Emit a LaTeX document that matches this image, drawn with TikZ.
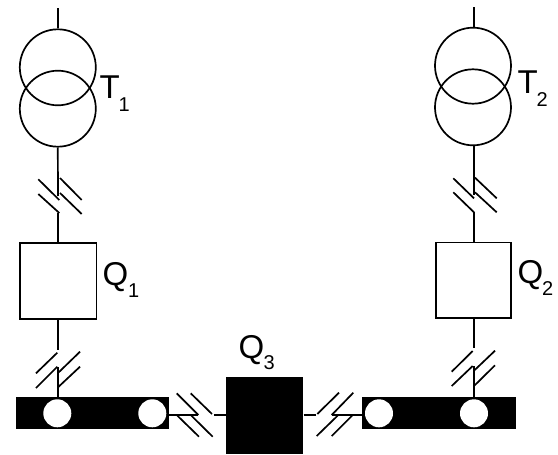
\documentclass[tikz,border=0pt]{standalone}
\usepackage{fontspec}
\setmainfont{Liberation Sans}
\begin{document}
\begin{tikzpicture}[x=1pt,y=-1pt,
  wire/.style={line width=1.7pt,black},
  tick/.style={line width=1.7pt,black},
  winding/.style={circle,draw=black,line width=1.7pt,minimum size=76pt,inner sep=0pt},
  breaker/.style={rectangle,draw=black,line width=1.7pt,fill=white,inner sep=0pt},
  solid box/.style={rectangle,fill=black,inner sep=0pt},
  hole/.style={circle,fill=white,minimum size=28pt,inner sep=0pt},
  mainlabel/.style={anchor=base west,inner sep=0pt,font=\fontsize{33}{33}\selectfont},
  sublabel/.style={anchor=base west,inner sep=0pt,font=\fontsize{20}{20}\selectfont}]
\useasboundingbox (0,0) rectangle (558,455);
% transformers
\node[winding] (t1a) at (57.8,67.3) {};
\node[winding] (t1b) at (57.8,108.7) {};
\node[winding] (t2a) at (473,65.7) {};
\node[winding] (t2b) at (473,107.3) {};
% feeder ends
\coordinate (t1top) at (58,8);
\coordinate (t2top) at (474,7);
\draw[wire] (t1top) -- (t1top |- t1a.north);
\draw[wire] (t2top) -- (t2top |- t2a.north);
% boxes
\node[breaker,minimum width=76.2pt,minimum height=76pt] (q1) at (58.4,281.3) {};
\node[breaker,minimum width=75.6pt,minimum height=75.7pt] (q2) at (473.5,280.2) {};
\node[solid box,minimum width=77.3pt,minimum height=77.3pt] (q3) at (264.7,415.4) {};
\node[solid box,minimum width=153.3pt,minimum height=32pt] (bus1) at (92.4,413) {};
\node[solid box,minimum width=153.4pt,minimum height=32pt] (bus2) at (439,413) {};
% break points on the connectors
\coordinate (a1) at (58,196);  \coordinate (a2) at (58,213);
\coordinate (b1) at (58,350);  \coordinate (b2) at (58,367);
\coordinate (c1) at (474,195); \coordinate (c2) at (474,212);
\coordinate (d1) at (474,348); \coordinate (d2) at (474,366);
\coordinate (e1) at (198,415); \coordinate (e2) at (214,415);
\coordinate (f1) at (315.7,415); \coordinate (f2) at (331.7,415);
% connectors
\draw[wire] (t1b.south) -- (a1);
\draw[wire] (a2) -- (a2 |- q1.north);
\draw[wire] (q1.south -| b1) -- (b1);
\draw[wire] (b2) -- (b2 |- bus1.north);
\draw[wire] (t2b.south -| c1) -- (c1);
\draw[wire] (c2) -- (c2 |- q2.north);
\draw[wire] (q2.south -| d1) -- (d1);
\draw[wire] (d2) -- (d2 |- bus2.north);
\draw[wire] (bus1.east |- e1) -- (e1);
\draw[wire] (e2) -- (q3.west |- e2);
\draw[wire] (q3.east |- f1) -- (f1);
\draw[wire] (f2) -- (bus2.west |- f2);
% ticks
\draw[tick] (38.3,179.3) -- (59.3,200) (38.3,194) -- (59.3,213) (60,178) -- (81.7,200) (60,193) -- (81.7,214);
\draw[tick] (453.3,178.3) -- (474,198.3) (453.3,192.3) -- (474,212.3) (475,177.7) -- (496.7,198.3) (475,192.3) -- (496.7,212.3);
\draw[tick] (36,373.3) -- (57.3,352.7) (36,388) -- (57.3,366.7) (80,351.7) -- (58.3,372.7) (80,366.7) -- (58.3,387);
\draw[tick] (451.7,371.7) -- (472.7,351) (451.7,386) -- (472.7,366) (495,350.7) -- (474,370.7) (495,365.3) -- (474,386);
\draw[tick] (176.7,393.3) -- (198.3,415) (176.7,415) -- (199,436.7) (190.7,393.3) -- (212,414) (190.7,415) -- (212.7,436.7);
\draw[tick] (317.3,414) -- (339,392.7) (316.7,436) -- (338.3,415) (331.7,415) -- (353.3,392.7) (331.7,436) -- (352.7,415);
% holes
\node[hole] (h1) at (57.3,413.3) {};
\node[hole] (h2) at (152.3,413.3) {};
\node[hole] (h3) at (379,413.3) {};
\node[hole] (h4) at (474,413.3) {};
% labels
\node[mainlabel] (lt1) at (99.5,98.7) {T};
\node[sublabel] (lt1s) at (118.5,111) {1};
\node[mainlabel] (lt2) at (517.5,93.3) {T};
\node[sublabel] (lt2s) at (536.5,106) {2};
\node[mainlabel] (lq1) at (102.5,285) {Q};
\node[sublabel] (lq1s) at (128,297.7) {1};
\node[mainlabel] (lq2) at (517.5,283) {Q};
\node[sublabel] (lq2s) at (542,295.7) {2};
\node[mainlabel] (lq3) at (238.5,358) {Q};
\node[sublabel] (lq3s) at (263.5,369) {3};
\end{tikzpicture}
\end{document}
